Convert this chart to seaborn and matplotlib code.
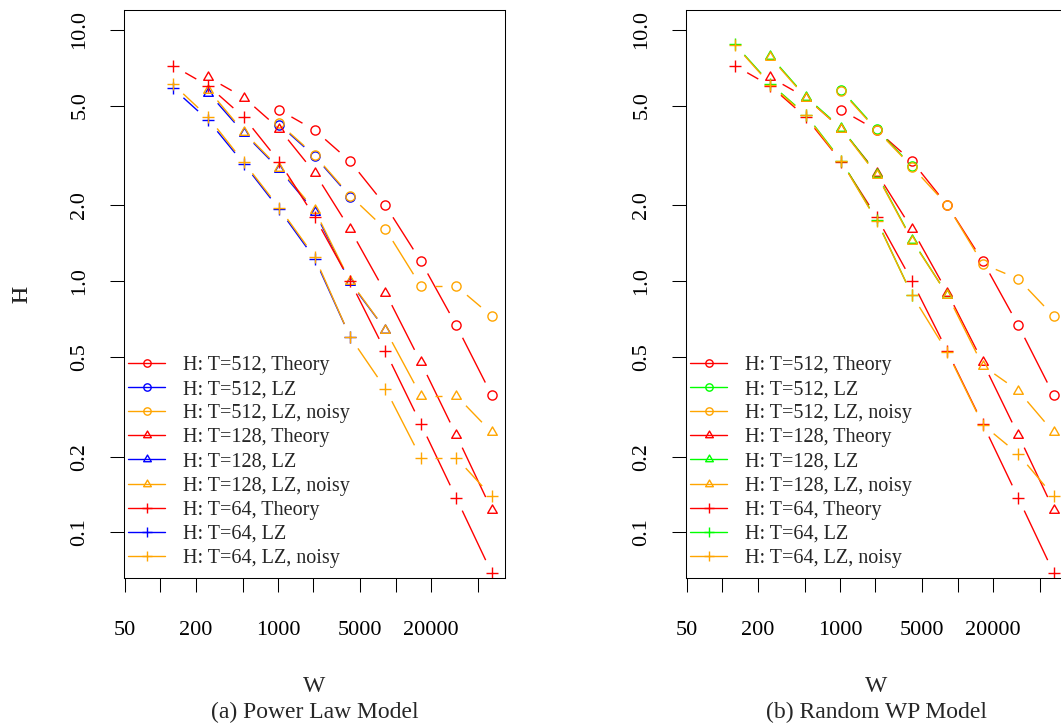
import numpy as np
import matplotlib
matplotlib.use('Agg')
import matplotlib.pyplot as plt
import seaborn as sns
from matplotlib.ticker import FixedLocator, FixedFormatter, NullLocator
from matplotlib.lines import Line2D
from matplotlib.path import Path

# ---------------- data ----------------
W = [128, 256, 512, 1024, 2048, 4096, 8192, 16384, 32768, 65536]

# Theory curves (same in both panels), starting at W = 2T
theory_512 = [4.80, 3.99, 3.00, 2.00, 1.20, 0.667, 0.352]
theory_128 = [6.47, 5.38, 4.04, 2.70, 1.61, 0.90, 0.475, 0.244, 0.123]
theory_64 = [7.2, 5.98, 4.49, 2.99, 1.80, 1.0, 0.525, 0.27, 0.137, 0.069]

# (a) Power Law Model
pl_lz_512 = [4.20, 3.14, 2.17]
pl_lz_128 = [5.62, 3.88, 2.79, 1.89, 0.99, 0.64]
pl_lz_64 = [5.85, 4.36, 2.93, 1.93, 1.23, 0.60]
pl_noisy_512 = [4.24, 3.17, 2.19, 1.61, 0.955, 0.955, 0.726]
pl_noisy_128 = [5.77, 3.92, 2.82, 1.92, 1.0, 0.64, 0.35, 0.35, 0.25]
pl_noisy_64 = [6.08, 4.48, 2.97, 1.96, 1.25, 0.60, 0.373, 0.198, 0.198, 0.139]

# (b) Random WP Model
wp_lz_512 = [5.78, 4.02, 2.87]
wp_lz_128 = [7.85, 5.42, 4.07, 2.67, 1.46, 0.88]
wp_lz_64 = [8.75, 6.10, 4.60, 3.02, 1.75, 0.88]
wp_noisy_512 = [5.72, 3.99, 2.85, 2.0, 1.17, 1.02, 0.725]
wp_noisy_128 = [7.78, 5.38, 4.04, 2.65, 1.45, 0.88, 0.46, 0.366, 0.25]
wp_noisy_64 = [8.7, 6.05, 4.57, 3.0, 1.74, 0.88, 0.52, 0.268, 0.205, 0.139]

T_values = [512, 128, 64]
legend_labels = ["H: T=512, Theory", "H: T=512, LZ", "H: T=512, LZ, noisy",
                 "H: T=128, Theory", "H: T=128, LZ", "H: T=128, LZ, noisy",
                 "H: T=64, Theory", "H: T=64, LZ", "H: T=64, LZ, noisy"]

x_ticks = [50, 100, 200, 500, 1000, 2000, 5000, 10000, 20000, 50000]
x_tick_labels = ['50', '', '200', '', '1000', '', '5000', '', '20000', '']
y_ticks = [0.1, 0.2, 0.5, 1.0, 2.0, 5.0, 10.0]
y_tick_labels = ['0.1', '0.2', '0.5', '1.0', '2.0', '5.0', '10.0']

captions = ["(a) Power Law Model", "(b) Random WP Model"]

# ---------------- style ----------------
sns.set_style("ticks")
plt.rcParams['font.family'] = ['Liberation Serif', 'DejaVu Serif']

RED = '#FF0000'
BLUE = '#0000FF'
GREEN = '#00FF00'
ORANGE = '#FFA500'

tri = Path([(-1, -0.5774), (1, -0.5774), (0, 1.1547), (-1, -0.5774)], closed=True)
MARKERS = {512: dict(marker='o', markersize=6.6),
           128: dict(marker=tri, markersize=8.0),
           64: dict(marker='+', markersize=8.8)}

LW = 1.0
MEW = 1.0
GAP = 14  # px gap around points (R type="b")

fig = plt.figure(figsize=(10.61, 7.27), dpi=100)
FW, FH = 1061, 727
ax_top, ax_bot = 10, 578.3
ax_w = 381
lefts = [124, 686]
xlim = (49.0, 85100)
ylim = (0.0656, 12.0)


def series_x(T, n):
    start = W.index(2 * T)
    return W[start:start + n]


def draw_b(ax, x, y, color, T):
    mk = MARKERS[T]
    sns.lineplot(x=x, y=y, ax=ax, color=color, linestyle='', marker=mk['marker'],
                 markersize=mk['markersize'], markerfacecolor='none',
                 markeredgecolor=color, markeredgewidth=MEW, sort=False,
                 estimator=None, legend=False)
    pts = ax.transData.transform(np.column_stack([x, y]))
    inv = ax.transData.inverted()
    for i in range(len(x) - 1):
        p0, p1 = pts[i], pts[i + 1]
        d = np.hypot(*(p1 - p0))
        if d > 2 * GAP:
            u = (p1 - p0) / d
            q = inv.transform(np.array([p0 + u * GAP, p1 - u * GAP]))
            ax.plot(q[:, 0], q[:, 1], color=color, lw=LW, solid_capstyle='butt')


panels = [
    dict(lz={512: pl_lz_512, 128: pl_lz_128, 64: pl_lz_64},
         noisy={512: pl_noisy_512, 128: pl_noisy_128, 64: pl_noisy_64}, lzcolor=BLUE),
    dict(lz={512: wp_lz_512, 128: wp_lz_128, 64: wp_lz_64},
         noisy={512: wp_noisy_512, 128: wp_noisy_128, 64: wp_noisy_64}, lzcolor=GREEN),
]
theory = {512: theory_512, 128: theory_128, 64: theory_64}

for pi, panel in enumerate(panels):
    left = lefts[pi]
    ax = fig.add_axes([left / FW, (FH - ax_bot) / FH, ax_w / FW, (ax_bot - ax_top) / FH])
    ax.set_xscale('log')
    ax.set_yscale('log')
    ax.set_xlim(*xlim)
    ax.set_ylim(*ylim)

    for T in T_values:
        th = theory[T]
        draw_b(ax, series_x(T, len(th)), th, RED, T)
        lz = panel['lz'][T]
        draw_b(ax, series_x(T, len(lz)), lz, panel['lzcolor'], T)
        nz = panel['noisy'][T]
        draw_b(ax, series_x(T, len(nz)), nz, ORANGE, T)

    ax.set_xlim(*xlim)
    ax.set_ylim(*ylim)
    ax.xaxis.set_major_locator(FixedLocator(x_ticks))
    ax.xaxis.set_major_formatter(FixedFormatter(x_tick_labels))
    ax.xaxis.set_minor_locator(NullLocator())
    ax.yaxis.set_major_locator(FixedLocator(y_ticks))
    ax.yaxis.set_major_formatter(FixedFormatter(y_tick_labels))
    ax.yaxis.set_minor_locator(NullLocator())
    ax.tick_params(axis='both', direction='out', length=10, width=0.75,
                   colors='black', labelsize=16)
    ax.tick_params(axis='x', pad=21)
    ax.tick_params(axis='y', pad=15, labelrotation=90)
    for lab in ax.get_yticklabels():
        lab.set_va('center')
    for sp in ax.spines.values():
        sp.set_visible(True)
        sp.set_linewidth(0.75)
        sp.set_color('black')

    ax.set_xlabel('W', fontsize=17)
    ax.xaxis.label.set_va('center')
    ax.xaxis.set_label_coords(0.5, -(686 - ax_bot) / (ax_bot - ax_top))
    ax.set_ylabel('H', fontsize=17)
    ax.yaxis.label.set_va('center')
    ax.yaxis.set_label_coords((22 - left) / ax_w, 0.5)

    handles = []
    for T in T_values:
        for c in [RED, panel['lzcolor'], ORANGE]:
            mk = MARKERS[T]
            handles.append(Line2D([], [], color=c, lw=LW, marker=mk['marker'],
                                  markersize=mk['markersize'] * 0.8, markerfacecolor='none',
                                  markeredgecolor=c, markeredgewidth=MEW))
    ax.legend(handles, legend_labels, loc='lower left', bbox_to_anchor=(0.0105, 0.018),
              frameon=False, fontsize=14.5, handlelength=1.84, handletextpad=0.9,
              labelspacing=0.25, borderpad=0, borderaxespad=0)

    fig.text((left + ax_w / 2) / FW, 1 - 712 / FH, captions[pi], ha='center',
             va='center', fontsize=17)

fig.savefig('out.png', dpi=100)
